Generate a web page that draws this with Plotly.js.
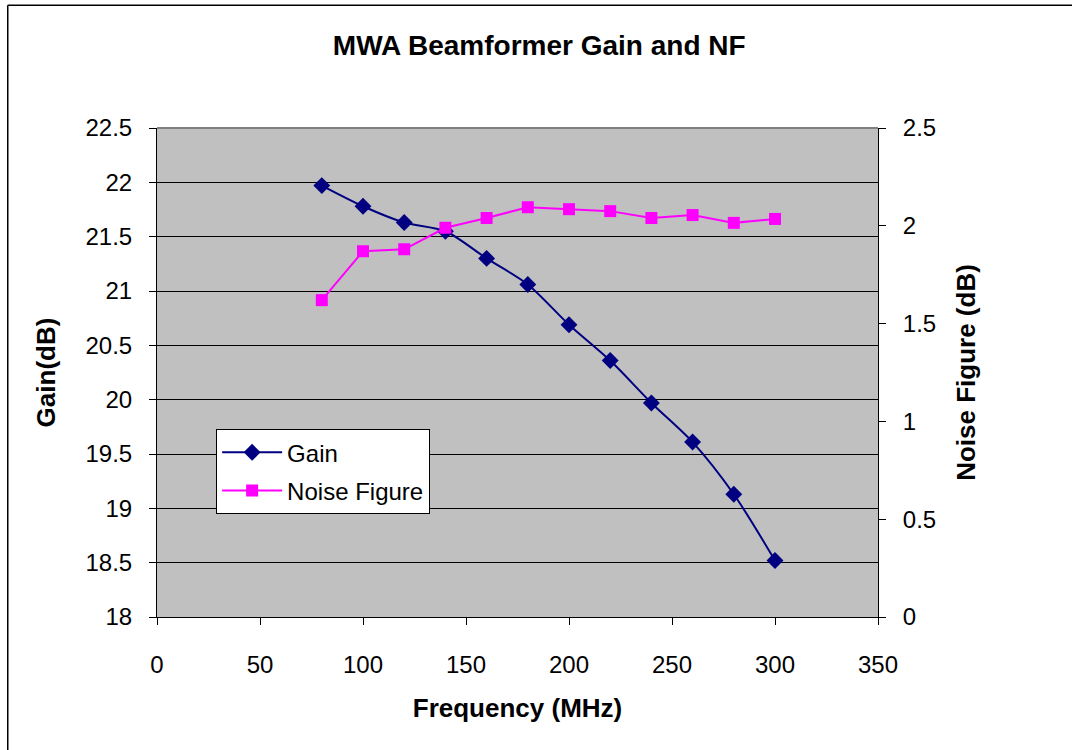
<!DOCTYPE html>
<html>
<head>
<meta charset="utf-8">
<script src="https://cdn.plot.ly/plotly-3.0.1.min.js"></script>
<style>html,body{margin:0;padding:0;background:#fff;}#chart{width:1072px;height:750px;}</style>
</head>
<body>
<div id="chart"></div>
<script>
const frequency = [80, 100, 120, 140, 160, 180, 200, 220, 240, 260, 280, 300];
const gain = [21.97, 21.78, 21.63, 21.55, 21.30, 21.06, 20.69, 20.36, 19.97, 19.61, 19.13, 18.52];
const noiseFigure = [1.62, 1.87, 1.88, 1.99, 2.04, 2.095, 2.085, 2.075, 2.04, 2.055, 2.015, 2.035];
const xTicks = [0, 50, 100, 150, 200, 250, 300, 350];
const gainTicks = [18, 18.5, 19, 19.5, 20, 20.5, 21, 21.5, 22, 22.5];
const nfTicks = [0, 0.5, 1, 1.5, 2, 2.5];

const font = 'Arial, "Liberation Sans", sans-serif';

const traces = [
  {
    x: frequency, y: gain, name: 'Gain', type: 'scatter', mode: 'lines+markers',
    legendgroup: 'g1',
    line: {color: '#000080', width: 2, shape: 'spline', smoothing: 0.8},
    marker: {symbol: 'diamond', size: 13, color: '#000080'},
    yaxis: 'y'
  },
  {
    x: frequency, y: noiseFigure, name: 'Noise Figure', type: 'scatter', mode: 'lines+markers',
    legendgroup: 'g2',
    line: {color: '#FF00FF', width: 2},
    marker: {symbol: 'square', size: 12, color: '#FF00FF'},
    yaxis: 'y2'
  }
];

const layout = {
  width: 1072, height: 750,
  margin: {l: 157, r: 194, t: 128, b: 133},
  paper_bgcolor: '#ffffff',
  plot_bgcolor: '#C0C0C0',
  font: {family: font, color: '#000'},
  showlegend: true,
  title: {text: '<b>MWA Beamformer Gain and NF</b>', font: {size: 28, family: font, color: '#000'},
          xref: 'container', x: 0.503, yref: 'container', y: 0.94, yanchor: 'middle'},
  xaxis: {
    range: [0, 350], tickvals: xTicks, ticktext: xTicks.map(String),
    showgrid: false, zeroline: false, showline: true, linecolor: '#000', linewidth: 1,
    ticks: 'outside', ticklen: 7, tickcolor: '#000', tickfont: {size: 24, family: font},
    ticklabelstandoff: 19,
    title: {text: '<b>Frequency (MHz)</b>', font: {size: 26, family: font}, standoff: 22},
    mirror: false
  },
  yaxis: {
    range: [18, 22.5], tickvals: gainTicks, ticktext: gainTicks.map(String),
    showgrid: true, gridcolor: '#000', gridwidth: 1, zeroline: false,
    showline: true, linecolor: '#000', linewidth: 1,
    ticks: 'outside', ticklen: 7, tickcolor: '#000', tickfont: {size: 24, family: font},
    ticklabelstandoff: 12,
    title: {text: '<b>Gain(dB)</b>', font: {size: 26, family: font}, standoff: 22}
  },
  yaxis2: {
    range: [0, 2.5], tickvals: nfTicks, ticktext: nfTicks.map(String),
    overlaying: 'y', side: 'right', showgrid: false, zeroline: false,
    showline: true, linecolor: '#000', linewidth: 1,
    ticks: 'outside', ticklen: 7, tickcolor: '#000', tickfont: {size: 24, family: font},
    ticklabelstandoff: 12,
    title: {text: '<b>Noise Figure (dB)</b>', font: {size: 26, family: font}, standoff: 21}
  },
  legend: {
    x: 0.082, y: 0.384, xanchor: 'left', yanchor: 'top',
    bgcolor: '#ffffff', bordercolor: '#000', borderwidth: 1,
    font: {size: 24, family: font}, tracegroupgap: 4, itemwidth: 60
  },
  shapes: [
    {type: 'line', xref: 'paper', yref: 'paper', x0: 0, x1: 1, y0: 1, y1: 1,
     line: {color: '#808080', width: 2}},
    {type: 'line', xref: 'paper', yref: 'paper', x0: -0.207, x1: -0.207, y0: 1.251, y1: -0.3,
     line: {color: '#000', width: 1.5}},
    {type: 'line', xref: 'paper', yref: 'paper', x0: -0.207, x1: 1.3, y0: 1.251, y1: 1.251,
     line: {color: '#000', width: 1.5}}
  ]
};

Plotly.newPlot('chart', traces, layout, {displayModeBar: false, staticPlot: true});
</script>
</body>
</html>
